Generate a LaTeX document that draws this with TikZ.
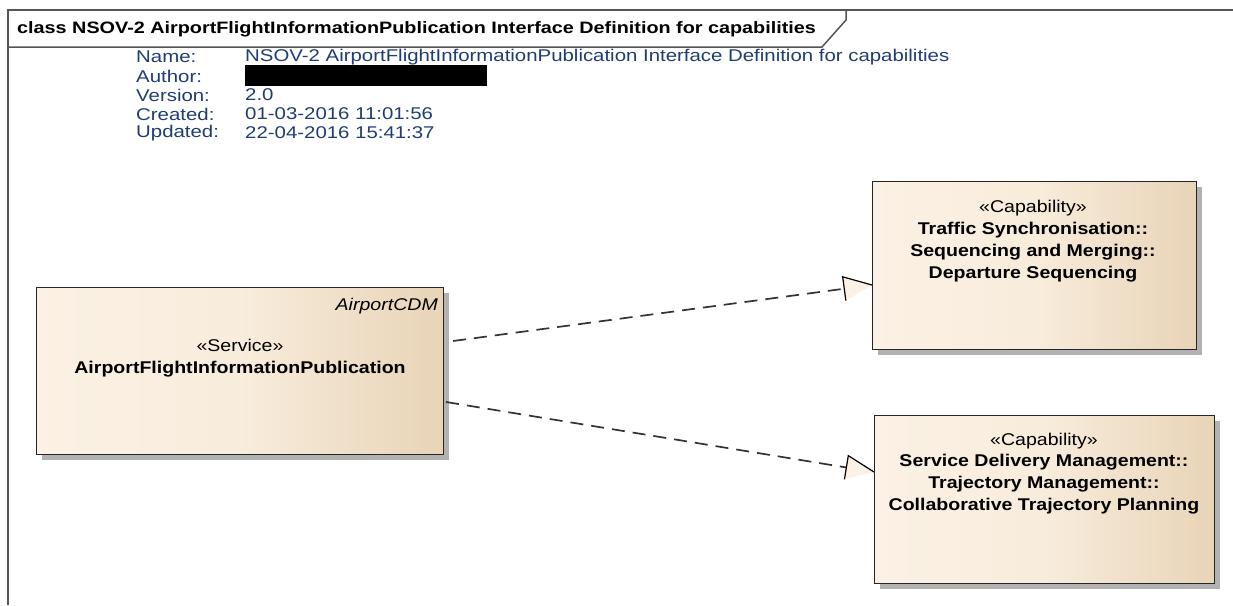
\documentclass[tikz,border=0pt]{standalone}
\usepackage{fontspec}
\setmainfont[FakeStretch=1.2]{Liberation Sans}
\newfontfamily\boxfont[FakeStretch=1.15]{Liberation Sans}
\usetikzlibrary{arrows.meta,shadows,calc}
\definecolor{infoblue}{HTML}{1F3C73}
\definecolor{creamL}{HTML}{FBF1E4}
\definecolor{creamM}{HTML}{F8ECDC}
\definecolor{tanR}{HTML}{E8D4B7}
\definecolor{framegray}{HTML}{555555}
\definecolor{dashgray}{HTML}{333333}
\pgfdeclarearrow{
  name=Realize,
  setup code={
    \pgfarrowssettipend{0pt}
    \pgfarrowssetlineend{-27pt}
    \pgfarrowssetvisualbackend{-28pt}
    \pgfarrowssetbackend{-28pt}
    \pgfarrowshullpoint{0pt}{0pt}
    \pgfarrowsupperhullpoint{-28pt}{12pt}
  },
  drawing code={
    \pgfsetdash{}{0pt}
    \pgfsetlinewidth{1.2pt}
    \pgfsetmiterjoin
    \pgfpathmoveto{\pgfqpoint{0pt}{0pt}}
    \pgfpathlineto{\pgfqpoint{-28pt}{12pt}}
    \pgfpathlineto{\pgfqpoint{-28pt}{-12pt}}
    \pgfpathclose
    \pgfsetfillcolor{creamL}
    \pgfusepathqfill
    \pgfpathmoveto{\pgfqpoint{0pt}{0pt}}
    \pgfpathlineto{\pgfqpoint{-28pt}{12pt}}
    \pgfpathlineto{\pgfqpoint{-28pt}{-12pt}}
    \pgfsetstrokecolor{black}
    \pgfusepathqstroke
  }
}
\tikzset{
  umlbox/.style={draw=black!85, line width=1.1pt, anchor=north west, inner sep=0pt,
    left color=creamL, right color=tanR, middle color=creamM,
    drop shadow={shadow xshift=5pt, shadow yshift=-5pt, fill=black!30, opacity=1}},
  boxtext/.style={font=\boxfont\fontsize{17}{22}\selectfont, align=center, inner sep=0pt, text=black},
  boxbold/.style={font=\boxfont\fontsize{17}{22}\selectfont\bfseries, align=center, inner sep=0pt, text=black, anchor=north},
  infotext/.style={font=\fontsize{17}{19}\selectfont, text=infoblue, anchor=west, inner sep=0pt},
  realize/.style={draw=dashgray, line width=1.7pt, dash pattern=on 13pt off 8pt, -{Realize}},
  frameline/.style={draw=framegray, line width=1.5pt}
}
\begin{document}
\begin{tikzpicture}[x=1pt,y=-1pt]
\useasboundingbox (0,0) rectangle (1233,605);
% frame
\draw[frameline] (1233,10) -- (8,10) -- (8,605);
\draw[frameline] (8,47) -- (822,47) -- (846,20) -- (846,10);
\node[anchor=west, inner sep=0pt, font=\fontsize{16.5}{19}\selectfont\bfseries] (title) at (17,29)
  {class NSOV-2 AirportFlightInformationPublication Interface Definition for capabilities};
% info block
\node[infotext] (l1) at (136,57) {Name:};
\node[infotext] (l2) at (136,76) {Author:};
\node[infotext] (l3) at (136,95) {Version:};
\node[infotext] (l4) at (136,114) {Created:};
\node[infotext] (l5) at (136,133) {Updated:};
\node[infotext] (v1) at (245,57) {NSOV-2 AirportFlightInformationPublication Interface Definition for capabilities};
\node[fill=black, minimum width=242pt, minimum height=21pt, inner sep=0pt, anchor=north west] (v2) at (245,65) {};
\node[infotext] (v3) at (245,95) {2.0};
\node[infotext] (v4) at (245,114) {01-03-2016 11:01:56};
\node[infotext] (v5) at (245,133) {22-04-2016 15:41:37};
% boxes
\node[umlbox, minimum width=407pt, minimum height=167pt] (svc) at (36,287) {};
\node[boxtext, anchor=east, font=\boxfont\fontsize{17}{22}\selectfont\itshape] (pkg) at (438,306) {AirportCDM};
\node[boxtext] (svcst) at (240,345) {«Service»};
\node[boxbold, anchor=center] (svcname) at (240,369) {AirportFlightInformationPublication};

\node[umlbox, minimum width=324pt, minimum height=168pt] (cap1) at (872,181) {};
\node[boxtext] (c1st) at (1033,208) {«Capability»};
\node[boxbold] (c1name) at (1033,222)
  {Traffic Synchronisation::\\Sequencing and Merging::\\Departure Sequencing};

\node[umlbox, minimum width=340pt, minimum height=168pt] (cap2) at (874,415) {};
\node[boxtext] (c2st) at (1044,441) {«Capability»};
\node[boxbold] (c2name) at (1044,454)
  {Service Delivery Management::\\Trajectory Management::\\Collaborative Trajectory Planning};

% connectors
\coordinate (s1) at ([xshift=9pt, yshift=-54pt]svc.north east);
\coordinate (e1) at ([yshift=-104pt]cap1.north west);
\coordinate (s2) at ([xshift=2pt, yshift=-115pt]svc.north east);
\coordinate (e2) at ([yshift=-57pt]cap2.north west);
\draw[realize] (s1) -- (e1);
\draw[realize] (s2) -- (e2);
\end{tikzpicture}
\end{document}
